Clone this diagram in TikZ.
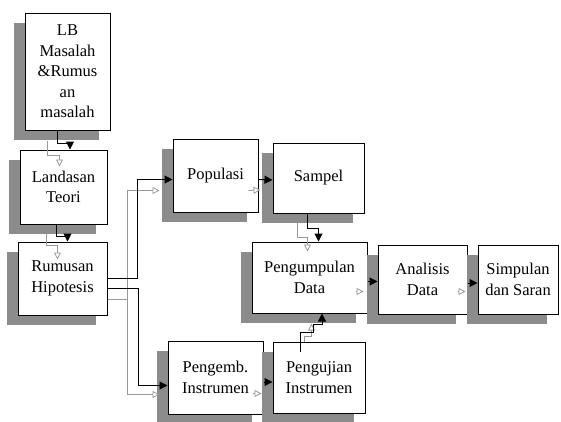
\documentclass[tikz,border=0pt]{standalone}
\usepackage{fontspec}
\setmainfont{Liberation Serif}
\usetikzlibrary{arrows.meta}
\usetikzlibrary{calc}
\tikzset{
	box/.style={draw, line width=1pt, fill=white, align=center, inner sep=1pt,
		font=\fontsize{16.5}{20.5}\selectfont},
	flow/.style={line width=1pt, -{Triangle[length=8pt,width=8pt]}},
	ghost/.style={line width=0.8pt, draw=black!40, -{Triangle[open,length=7pt,width=7pt]}}
}
\newcommand{\flowbox}[6] % name, x, y, width, height, text (centre in px)
{
	% shadow
	\fill[black!45] ({#2-#4/2-11},{#3-#5/2+10}) rectangle ++(#4,#5);
	% box
	\node[box, minimum width=#4pt, minimum height=#5pt] (#1) at (#2,#3) {#6};
}

\begin{document}
\begin{tikzpicture}[x=1pt, y=-1pt]
	\useasboundingbox (0,0) rectangle (561,421);
	% left column
	\flowbox{lb}{67.5}{71.5}{85}{117}{LB\\Masalah\\\&Rumus\\an\\masalah};
	\flowbox{lt}{63.5}{187}{87}{74}{Landasan\\Teori};
	\flowbox{rh}{62.5}{278.5}{89}{73}{Rumusan\\Hipotesis};
	% upper row
	\flowbox{pop}{215.5}{175.5}{85}{73}{Populasi};
	\flowbox{smp}{318.5}{178}{91}{70}{Sampel};
	% middle row
	\flowbox{pd}{309.5}{277.5}{115}{71}{Pengumpulan\\Data};
	\flowbox{ad}{422.5}{279.5}{89}{69}{Analisis\\Data};
	\flowbox{ss}{518}{279.5}{80}{69}{Simpulan\\dan Saran};
	% lower row
	\flowbox{pi}{215.5}{377.5}{95}{73}{Pengemb.\\Instrumen};
	\flowbox{uji}{319}{377.5}{92}{71}{Pengujian\\Instrumen};
	
	% grey shadow arrows
	\draw[ghost] ([shift={(-20,10)}]lb.south) -- ++(0,15) -| ([shift={(-4,17)}]lt.north);
	\draw[ghost] ([shift={(-17,9)}]lt.south) -- ++(0,12) -| ([shift={(-5,18)}]rh.north);
	\draw[ghost] ([shift={(0,21)}]rh.east) -- ++(20,0) |- ([shift={(-13,15)}]pop.west);
	\draw[ghost] ([shift={(0,21)}]rh.east) -- ++(20,0) |- ([shift={(-8,17)}]pi.west);
	\draw[ghost] ([shift={(-10,15)}]pop.east) -- ([shift={(-12,12)}]smp.west);
	\draw[ghost] ([shift={(-21,9)}]smp.south) -- ++(0,15) -| ([shift={(-2,10)}]pd.north);
	\draw[ghost] ([shift={(-15,0)}]uji.north) -- ++(0,-5) -- ++(8,0) -| ([shift={(2,10)}]pd.south);
	\draw[ghost] ([shift={(-12,14)}]pd.east) -- ([shift={(-14,12)}]ad.west);
	\draw[ghost] ([shift={(-10,12)}]ad.east) -- ([shift={(-12,12)}]ss.west);
	\draw[ghost] ([shift={(-11,16)}]pi.east) -- ([shift={(-11,16)}]uji.west);
	
	% black arrows
	\draw[flow] ([xshift=-10pt]lb.south) -- ++(0,13) -| ([xshift=6.5pt]lt.north);
	\draw[flow] ([xshift=-7pt]lt.south) -- ++(0,12) -| ([xshift=5pt]rh.north);
	\draw[flow] (rh.east) -- ++(30,0) |- ([shift={(0,4)}]pop.west);
	\draw[flow] ([shift={(0,10)}]rh.east) -- ++(31,0) |- ([shift={(0,8)}]pi.west);
	\draw[flow] ([shift={(0,4)}]pop.east) -- ([shift={(0,2)}]smp.west);
	\draw[flow] ([xshift=-11pt]smp.south) -- ++(0,15) -| ([xshift=9pt]pd.north);
	\draw[flow] ([shift={(-19,10)}]uji.north) -- ++(0,-19) -- ++(13,0) -- ++(0,-8) -| ([xshift=12.5pt]pd.south);
	\draw[flow] ([shift={(0,4)}]pd.east) -- ([shift={(0,2)}]ad.west);
	\draw[flow] ([shift={(0,3.5)}]ad.east) -- ([shift={(0,3.5)}]ss.west);
	\draw[flow] ([shift={(0,4.5)}]pi.east) -- ([shift={(0,4.5)}]uji.west);
\end{tikzpicture}
\end{document}
